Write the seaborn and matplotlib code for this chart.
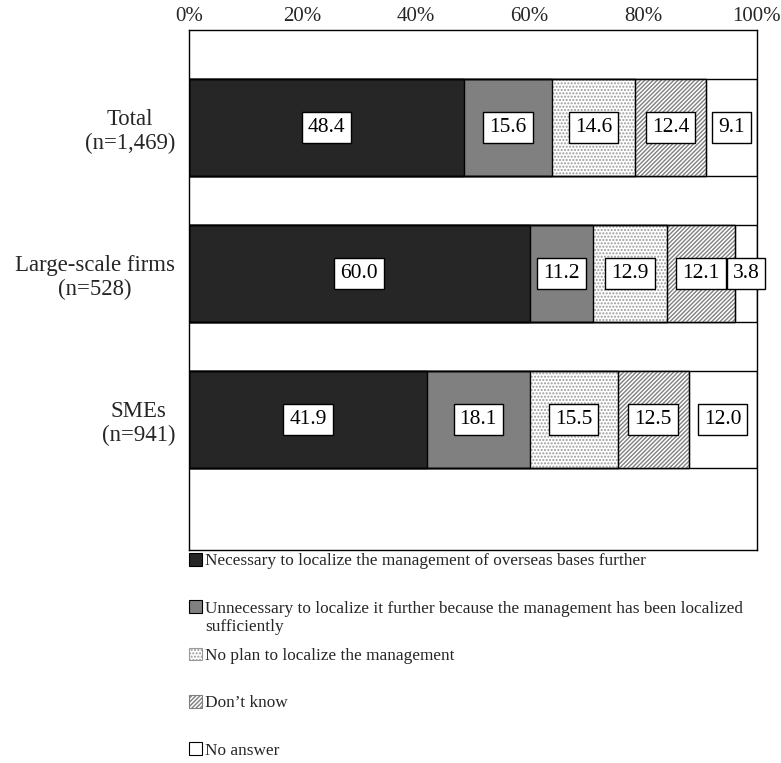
import matplotlib
matplotlib.use("Agg")
import matplotlib.pyplot as plt
import seaborn as sns
import pandas as pd
import numpy as np
from matplotlib.patches import Patch
from matplotlib.ticker import PercentFormatter

# Data
groups = ["Total\n(n=1,469)", "Large-scale firms\n(n=528)", "SMEs\n(n=941)"]
series = [
    "Necessary to localize the management of overseas bases further",
    "Unnecessary to localize it further because the management has been localized",
    "No plan to localize the management",
    "Don\u2019t know",
    "No answer",
]
wrap_tail = "sufficiently"
necessary = [48.4, 60.0, 41.9]
unnecessary = [15.6, 11.2, 18.1]
no_plan = [14.6, 12.9, 15.5]
dont_know = [12.4, 12.1, 12.5]
no_answer = [9.1, 3.8, 12.0]

face = ["#262626", "#808080", "white", "white", "white"]
hatch = [None, None, ".....", "////////", None]
hatch_col = [None, None, "#9a9a9a", "#808080", None]

sns.set_theme(style="white")
plt.rcParams["font.family"] = ["Liberation Serif", "DejaVu Serif"]
plt.rcParams["hatch.linewidth"] = 1.0

df = pd.DataFrame({"group": groups})
vals = [necessary, unnecessary, no_plan, dont_know, no_answer]
for s, v in zip(series, vals):
    df[s] = v
cum = df[series].cumsum(axis=1)

fig = plt.figure(figsize=(7.81, 7.63), dpi=100)
ax = fig.add_axes([0.242, 0.279, 0.727, 0.682])

# draw cumulative bars from the last series back to the first
for i in reversed(range(len(series))):
    sns.barplot(x=cum[series[i]], y=df["group"], orient="h", color=face[i],
                width=0.664, ax=ax, edgecolor="black", linewidth=1.0,
                saturation=1)
    for p in ax.patches[-len(groups):]:
        p.set_facecolor(face[i])
        if hatch[i]:
            p.set_hatch(hatch[i])
            p.set_edgecolor(hatch_col[i])
            # black outline on top of the hatched face
            ax.add_patch(plt.Rectangle(p.get_xy(), p.get_width(), p.get_height(),
                                       fill=False, edgecolor="black", linewidth=1.0,
                                       zorder=p.get_zorder() + 0.01))

# value labels
for i, s in enumerate(series):
    centers = cum[s] - df[s] / 2
    for j, (c, v) in enumerate(zip(centers, df[s])):
        ax.text(c, j, f"{v:.1f}", ha="center", va="center", fontsize=15.5,
                color="black", zorder=10,
                bbox=dict(boxstyle="square,pad=0.28", fc="white", ec="black", lw=1.0))

ax.set_xlim(0, 100)
ax.set_ylim(2.894, -0.668)
ax.xaxis.set_major_formatter(PercentFormatter(decimals=0))
ax.set_xticks(np.arange(0, 101, 20))
ax.xaxis.tick_top()
ax.tick_params(axis="x", labelsize=15, length=0, pad=3)
ax.tick_params(axis="y", labelsize=16.4, length=0, pad=10)
for lab in ax.get_yticklabels():
    lab.set_multialignment("center")
ax.set_xlabel("")
ax.set_ylabel("")
for sp in ax.spines.values():
    sp.set_visible(True)
    sp.set_color("black")
    sp.set_linewidth(1.0)

handles = []
for i in range(len(series)):
    handles.append(Patch(facecolor=face[i], edgecolor=hatch_col[i] or "black",
                         hatch=hatch[i], linewidth=0.8))
leg = fig.legend(handles, series, loc="upper left", bbox_to_anchor=(0.242, 0.275),
                 frameon=False, fontsize=12.4, handlelength=0.75, handleheight=0.75,
                 handletextpad=0.2, labelspacing=1.8, borderaxespad=0,
                 borderpad=0)

# second line of the wrapped legend entry
fig.canvas.draw()
t = leg.get_texts()[1]
bb = t.get_window_extent().transformed(fig.transFigure.inverted())
fig.text(bb.x0, bb.y0 - 0.003, wrap_tail, ha="left", va="top", fontsize=12.4)

fig.savefig("out.png", dpi=100)
